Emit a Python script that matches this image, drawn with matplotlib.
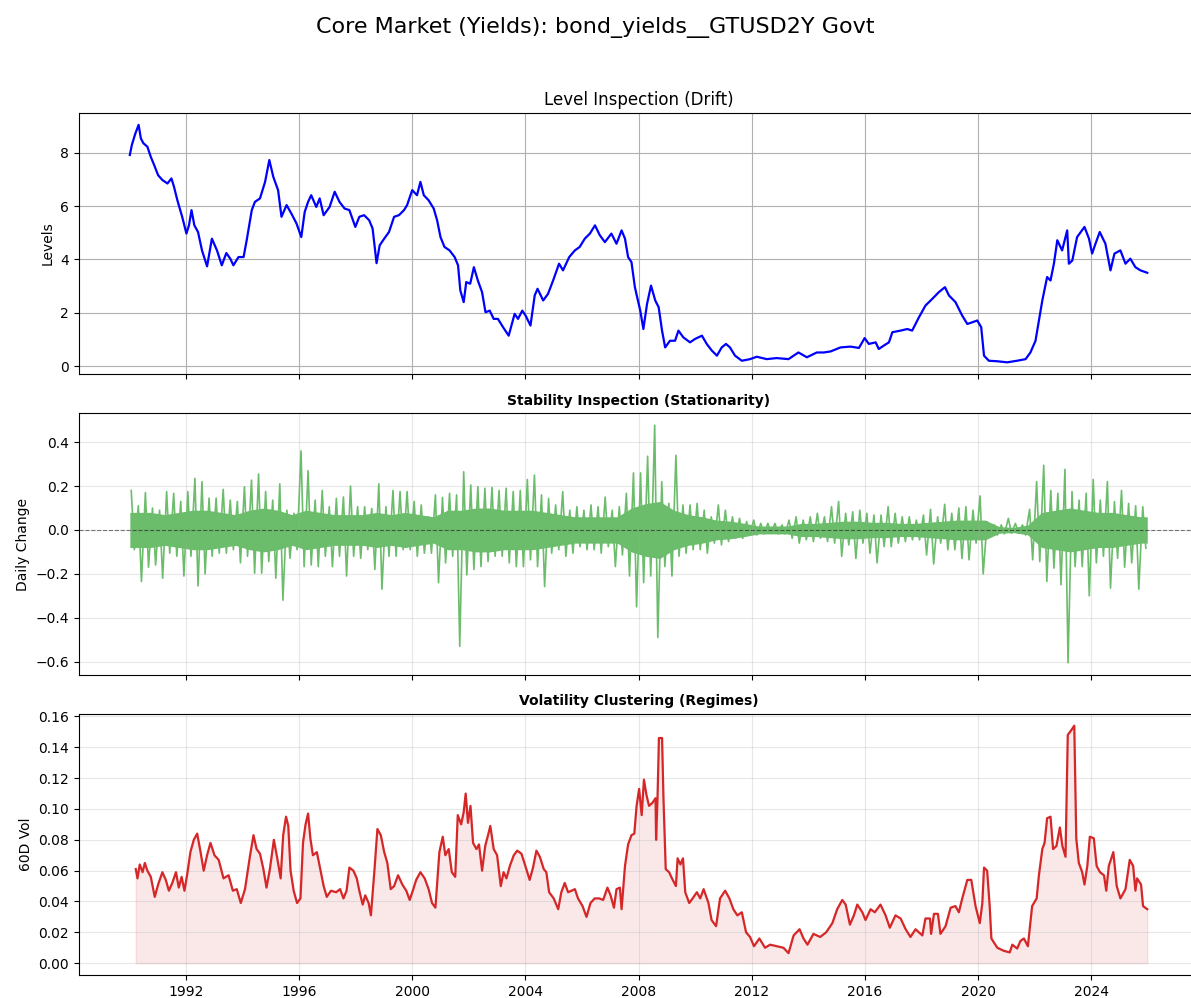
import numpy as np
import pandas as pd
import matplotlib
matplotlib.use('Agg')
import matplotlib.pyplot as plt

_title = 'Core Market (Yields): bond_yields__GTUSD2Y Govt'

# Level of the 2Y yield (decimal year, percent)
level_t = [1990.02, 1990.09, 1990.21, 1990.33, 1990.41, 1990.50, 1990.64, 1990.76, 1990.88,
           1991.02, 1991.17, 1991.35, 1991.49, 1991.58, 1991.70, 1991.87, 1992.02, 1992.11,
           1992.20, 1992.30, 1992.43, 1992.57, 1992.75, 1992.92, 1993.10, 1993.27, 1993.43,
           1993.57, 1993.68, 1993.86, 1994.04, 1994.15, 1994.33, 1994.44, 1994.62, 1994.80,
           1994.95, 1995.09, 1995.26, 1995.38, 1995.56, 1995.73, 1995.91, 1996.08, 1996.20,
           1996.32, 1996.43, 1996.61, 1996.73, 1996.87, 1997.08, 1997.26, 1997.43, 1997.61,
           1997.78, 1997.99, 1998.13, 1998.30, 1998.48, 1998.60, 1998.74, 1998.85, 1999.01,
           1999.18, 1999.36, 1999.53, 1999.71, 1999.82, 2000.00, 2000.17, 2000.29, 2000.41,
           2000.58, 2000.76, 2000.88, 2001.00, 2001.14, 2001.32, 2001.50, 2001.62, 2001.70,
           2001.82, 2001.91, 2002.05, 2002.18, 2002.32, 2002.47, 2002.59, 2002.74, 2002.88,
           2003.03, 2003.21, 2003.41, 2003.62, 2003.74, 2003.89, 2004.01, 2004.18, 2004.33,
           2004.43, 2004.63, 2004.80, 2004.98, 2005.19, 2005.33, 2005.55, 2005.75, 2005.92,
           2006.10, 2006.28, 2006.46, 2006.63, 2006.81, 2007.04, 2007.22, 2007.40, 2007.52,
           2007.63, 2007.75, 2007.87, 2008.06, 2008.17, 2008.30, 2008.44, 2008.59, 2008.71,
           2008.83, 2008.94, 2009.11, 2009.29, 2009.41, 2009.58, 2009.82, 2010.00, 2010.24,
           2010.41, 2010.59, 2010.77, 2010.94, 2011.09, 2011.23, 2011.41, 2011.65, 2011.94,
           2012.18, 2012.53, 2012.88, 2013.30, 2013.65, 2013.95, 2014.30, 2014.55, 2014.79,
           2015.14, 2015.49, 2015.79, 2015.99, 2016.14, 2016.38, 2016.49, 2016.67, 2016.85,
           2016.97, 2017.26, 2017.50, 2017.67, 2017.91, 2018.14, 2018.38, 2018.61, 2018.83,
           2018.97, 2019.20, 2019.44, 2019.62, 2019.79, 2019.97, 2020.11, 2020.21, 2020.38,
           2020.68, 2021.03, 2021.38, 2021.68, 2021.85, 2022.03, 2022.15, 2022.27, 2022.44,
           2022.56, 2022.68, 2022.80, 2022.97, 2023.15, 2023.21, 2023.33, 2023.50, 2023.76,
           2023.92, 2024.03, 2024.15, 2024.30, 2024.50, 2024.68, 2024.82, 2025.03, 2025.21,
           2025.38, 2025.56, 2025.74, 2025.98]
level_v = [7.92, 8.29, 8.71, 9.05, 8.54, 8.36, 8.23, 7.85, 7.54,
           7.16, 6.98, 6.85, 7.04, 6.73, 6.22, 5.60, 4.97, 5.28,
           5.85, 5.28, 5.03, 4.34, 3.74, 4.78, 4.34, 3.78, 4.24,
           4.03, 3.78, 4.09, 4.09, 4.72, 5.85, 6.16, 6.29, 6.91,
           7.73, 7.10, 6.60, 5.60, 6.04, 5.72, 5.35, 4.84, 5.78,
           6.16, 6.41, 5.97, 6.29, 5.66, 5.97, 6.54, 6.16, 5.91,
           5.85, 5.22, 5.60, 5.66, 5.47, 5.16, 3.86, 4.53, 4.78,
           5.03, 5.60, 5.66, 5.85, 6.04, 6.60, 6.41, 6.91, 6.41,
           6.22, 5.91, 5.47, 4.84, 4.47, 4.34, 4.09, 3.78, 2.84,
           2.40, 3.15, 3.09, 3.71, 3.21, 2.77, 2.02, 2.08, 1.77,
           1.77, 1.46, 1.14, 1.96, 1.77, 2.08, 1.89, 1.52, 2.65,
           2.90, 2.46, 2.71, 3.21, 3.84, 3.59, 4.09, 4.34, 4.47,
           4.78, 4.97, 5.28, 4.91, 4.65, 4.97, 4.59, 5.09, 4.78,
           4.09, 3.90, 2.96, 2.08, 1.39, 2.33, 3.02, 2.46, 2.21,
           1.33, 0.70, 0.95, 0.95, 1.33, 1.08, 0.89, 1.02, 1.14,
           0.83, 0.58, 0.39, 0.70, 0.83, 0.70, 0.39, 0.20, 0.26,
           0.35, 0.26, 0.30, 0.26, 0.51, 0.33, 0.51, 0.51, 0.55,
           0.70, 0.73, 0.68, 1.05, 0.83, 0.89, 0.64, 0.77, 0.89,
           1.27, 1.33, 1.39, 1.33, 1.83, 2.27, 2.52, 2.77, 2.96,
           2.65, 2.40, 1.89, 1.58, 1.64, 1.71, 1.46, 0.39, 0.20,
           0.18, 0.14, 0.20, 0.26, 0.51, 0.95, 1.71, 2.46, 3.34,
           3.21, 3.84, 4.72, 4.34, 5.09, 3.84, 3.96, 4.84, 5.22,
           4.78, 4.22, 4.59, 5.03, 4.59, 3.59, 4.22, 4.34, 3.84,
           4.03, 3.71, 3.59, 3.50]

# Daily change: quarterly extremes (largest rise / largest fall), 1990Q1..2025Q4
change_hi = [0.18, 0.11, 0.17, 0.10,  0.09, 0.175, 0.167, 0.13,  0.175, 0.235, 0.22, 0.145,
             0.145, 0.185, 0.136, 0.13,  0.197, 0.227, 0.255, 0.175,  0.136, 0.21, 0.09, 0.076,
             0.36, 0.27, 0.136, 0.18,  0.106, 0.144, 0.15, 0.20,  0.106, 0.106, 0.098, 0.21,
             0.106, 0.18, 0.175, 0.175,  0.13, 0.114, 0.06, 0.16,  0.148, 0.167, 0.16, 0.265,
             0.205, 0.197, 0.19, 0.194,  0.18, 0.19, 0.175, 0.18,  0.23, 0.25, 0.16, 0.144,
             0.114, 0.175, 0.09, 0.106,  0.09, 0.114, 0.106, 0.15,  0.09, 0.106, 0.167, 0.26,
             0.26, 0.336, 0.477, 0.22,  0.121, 0.34, 0.114, 0.114,  0.121, 0.09, 0.06, 0.114,
             0.09, 0.06, 0.053, 0.038,  0.045, 0.03, 0.03, 0.03,  0.023, 0.045, 0.06, 0.045,
             0.06, 0.076, 0.06, 0.106,  0.13, 0.076, 0.083, 0.09,  0.076, 0.068, 0.068, 0.106,
             0.076, 0.06, 0.06, 0.045,  0.068, 0.094, 0.06, 0.117,  0.076, 0.10, 0.106, 0.09,
             0.155, 0.038, 0.023, 0.023,  0.053, 0.03, 0.023, 0.094,  0.22, 0.295, 0.18, 0.167,
             0.276, 0.175, 0.136, 0.167,  0.23, 0.136, 0.22, 0.129,  0.18, 0.121, 0.11, 0.106]
change_lo = [-0.09, -0.235, -0.17, -0.16,  -0.22, -0.106, -0.12, -0.21,  -0.12, -0.255, -0.20, -0.12,
             -0.106, -0.106, -0.09, -0.15,  -0.12, -0.197, -0.197, -0.144,  -0.22, -0.32, -0.129, -0.09,
             -0.167, -0.16, -0.167, -0.12,  -0.167, -0.12, -0.21, -0.12,  -0.129, -0.09, -0.18, -0.27,
             -0.12, -0.12, -0.09, -0.09,  -0.12, -0.106, -0.106, -0.24,  -0.15, -0.12, -0.53, -0.205,
             -0.18, -0.167, -0.144, -0.12,  -0.12, -0.15, -0.167, -0.167,  -0.136, -0.167, -0.258, -0.106,
             -0.09, -0.12, -0.106, -0.076,  -0.09, -0.09, -0.106, -0.076,  -0.167, -0.114, -0.21, -0.35,
             -0.24, -0.21, -0.49, -0.167,  -0.21, -0.12, -0.106, -0.09,  -0.09, -0.106, -0.06, -0.068,
             -0.053, -0.038, -0.038, -0.023,  -0.023, -0.018, -0.015, -0.018,  -0.018, -0.038, -0.06, -0.045,
             -0.053, -0.038, -0.053, -0.06,  -0.12, -0.068, -0.13, -0.06,  -0.106, -0.15, -0.076, -0.076,
             -0.06, -0.053, -0.045, -0.045,  -0.114, -0.155, -0.06, -0.09,  -0.09, -0.13, -0.136, -0.06,
             -0.20, -0.03, -0.023, -0.018,  -0.015, -0.015, -0.023, -0.136,  -0.144, -0.235, -0.174, -0.25,
             -0.605, -0.167, -0.167, -0.30,  -0.15, -0.12, -0.265, -0.129,  -0.17, -0.15, -0.27, -0.083]
# typical size of a day's move, by half year (1990H1..2025H2)
change_core = [0.08, 0.08, 0.07, 0.08, 0.09, 0.09, 0.08, 0.07, 0.09, 0.10, 0.09, 0.07,
               0.09, 0.08, 0.07, 0.07, 0.07, 0.08, 0.07, 0.08, 0.07, 0.06, 0.09, 0.09,
               0.10, 0.10, 0.09, 0.09, 0.09, 0.08, 0.07, 0.06, 0.06, 0.06, 0.06, 0.10,
               0.12, 0.13, 0.09, 0.07, 0.06, 0.045, 0.04, 0.03, 0.018, 0.018, 0.018, 0.03,
               0.03, 0.035, 0.04, 0.04, 0.035, 0.035, 0.03, 0.03, 0.035, 0.04, 0.045, 0.045,
               0.045, 0.015, 0.012, 0.022, 0.08, 0.09, 0.10, 0.09, 0.08, 0.08, 0.07, 0.06]

# 60 day rolling volatility of daily changes
vol_t = [1990.23, 1990.29, 1990.37, 1990.47, 1990.55, 1990.64, 1990.76, 1990.90, 1991.02,
         1991.17, 1991.29, 1991.40, 1991.52, 1991.65, 1991.75, 1991.85, 1991.95, 1992.05,
         1992.16, 1992.28, 1992.40, 1992.51, 1992.63, 1992.75, 1992.87, 1993.01, 1993.16,
         1993.33, 1993.51, 1993.66, 1993.80, 1993.94, 1994.09, 1994.27, 1994.39, 1994.50,
         1994.62, 1994.74, 1994.85, 1994.97, 1995.11, 1995.23, 1995.35, 1995.44, 1995.54,
         1995.62, 1995.70, 1995.81, 1995.93, 1996.05, 1996.14, 1996.23, 1996.32, 1996.40,
         1996.49, 1996.63, 1996.75, 1996.87, 1996.98, 1997.13, 1997.31, 1997.45, 1997.57,
         1997.68, 1997.78, 1997.92, 1998.04, 1998.13, 1998.25, 1998.34, 1998.46, 1998.54,
         1998.66, 1998.77, 1998.89, 1999.01, 1999.12, 1999.24, 1999.36, 1999.50, 1999.65,
         1999.79, 1999.91, 2000.02, 2000.14, 2000.29, 2000.44, 2000.58, 2000.70, 2000.82,
         2000.96, 2001.08, 2001.17, 2001.29, 2001.40, 2001.52, 2001.61, 2001.73, 2001.82,
         2001.89, 2001.97, 2002.06, 2002.15, 2002.27, 2002.36, 2002.47, 2002.58, 2002.68,
         2002.76, 2002.88, 2003.00, 2003.13, 2003.23, 2003.33, 2003.45, 2003.59, 2003.71,
         2003.86, 2004.00, 2004.15, 2004.27, 2004.39, 2004.51, 2004.65, 2004.74, 2004.84,
         2005.00, 2005.16, 2005.27, 2005.39, 2005.51, 2005.63, 2005.75, 2005.86, 2006.02,
         2006.16, 2006.30, 2006.45, 2006.61, 2006.75, 2006.90, 2007.01, 2007.13, 2007.22,
         2007.34, 2007.40, 2007.52, 2007.63, 2007.75, 2007.85, 2007.93, 2008.02, 2008.11,
         2008.19, 2008.28, 2008.37, 2008.49, 2008.60, 2008.62, 2008.67, 2008.72, 2008.83,
         2008.88, 2008.96, 2009.08, 2009.18, 2009.32, 2009.38, 2009.48, 2009.57, 2009.65,
         2009.79, 2009.91, 2010.06, 2010.18, 2010.30, 2010.47, 2010.58, 2010.74, 2010.88,
         2011.06, 2011.21, 2011.35, 2011.49, 2011.65, 2011.80, 2011.94, 2012.08, 2012.27,
         2012.47, 2012.65, 2012.88, 2013.12, 2013.30, 2013.48, 2013.69, 2013.83, 2013.97,
         2014.18, 2014.42, 2014.63, 2014.85, 2015.02, 2015.20, 2015.32, 2015.47, 2015.61,
         2015.73, 2015.91, 2016.02, 2016.20, 2016.35, 2016.55, 2016.73, 2016.88, 2017.08,
         2017.26, 2017.44, 2017.61, 2017.79, 2018.03, 2018.14, 2018.30, 2018.34, 2018.44,
         2018.58, 2018.67, 2018.85, 2019.03, 2019.20, 2019.32, 2019.44, 2019.62, 2019.76,
         2019.91, 2020.06, 2020.15, 2020.21, 2020.32, 2020.41, 2020.47, 2020.68, 2020.91,
         2021.12, 2021.21, 2021.38, 2021.50, 2021.62, 2021.76, 2021.91, 2022.07, 2022.15,
         2022.27, 2022.35, 2022.44, 2022.56, 2022.65, 2022.77, 2022.89, 2022.98, 2023.09,
         2023.17, 2023.29, 2023.40, 2023.47, 2023.56, 2023.68, 2023.76, 2023.86, 2023.95,
         2024.09, 2024.19, 2024.31, 2024.45, 2024.53, 2024.62, 2024.78, 2024.90, 2025.03,
         2025.21, 2025.36, 2025.48, 2025.56, 2025.62, 2025.76, 2025.83, 2025.98]
vol_v = [0.061, 0.055, 0.064, 0.059, 0.065, 0.060, 0.056, 0.043, 0.051,
         0.059, 0.054, 0.047, 0.052, 0.059, 0.049, 0.056, 0.047, 0.058,
         0.072, 0.080, 0.084, 0.073, 0.060, 0.070, 0.078, 0.070, 0.067,
         0.055, 0.057, 0.047, 0.048, 0.039, 0.048, 0.070, 0.083, 0.074,
         0.071, 0.061, 0.049, 0.061, 0.080, 0.068, 0.055, 0.083, 0.095,
         0.089, 0.060, 0.047, 0.039, 0.042, 0.078, 0.090, 0.097, 0.081,
         0.070, 0.072, 0.061, 0.050, 0.043, 0.047, 0.046, 0.048, 0.042,
         0.047, 0.062, 0.060, 0.055, 0.047, 0.038, 0.044, 0.039, 0.031,
         0.059, 0.087, 0.083, 0.072, 0.065, 0.048, 0.050, 0.057, 0.051,
         0.047, 0.041, 0.047, 0.054, 0.059, 0.055, 0.048, 0.039, 0.036,
         0.072, 0.082, 0.070, 0.074, 0.059, 0.056, 0.096, 0.090, 0.098,
         0.110, 0.091, 0.102, 0.078, 0.074, 0.077, 0.060, 0.076, 0.083,
         0.089, 0.074, 0.070, 0.050, 0.059, 0.055, 0.063, 0.070, 0.073,
         0.071, 0.063, 0.054, 0.062, 0.073, 0.069, 0.061, 0.059, 0.046,
         0.042, 0.035, 0.046, 0.052, 0.046, 0.047, 0.048, 0.042, 0.037,
         0.030, 0.039, 0.042, 0.042, 0.041, 0.049, 0.044, 0.036, 0.048,
         0.049, 0.035, 0.063, 0.077, 0.083, 0.084, 0.102, 0.113, 0.096,
         0.119, 0.109, 0.102, 0.104, 0.107, 0.080, 0.107, 0.146, 0.146,
         0.107, 0.061, 0.059, 0.055, 0.050, 0.068, 0.064, 0.068, 0.046,
         0.039, 0.042, 0.046, 0.042, 0.048, 0.039, 0.028, 0.024, 0.042,
         0.047, 0.042, 0.035, 0.031, 0.033, 0.020, 0.017, 0.011, 0.016,
         0.010, 0.012, 0.011, 0.010, 0.0065, 0.018, 0.022, 0.016, 0.012,
         0.019, 0.017, 0.020, 0.026, 0.035, 0.041, 0.038, 0.025, 0.031,
         0.038, 0.033, 0.028, 0.035, 0.033, 0.038, 0.031, 0.023, 0.031,
         0.029, 0.022, 0.017, 0.022, 0.018, 0.029, 0.029, 0.019, 0.032,
         0.032, 0.019, 0.024, 0.036, 0.037, 0.033, 0.042, 0.054, 0.054,
         0.037, 0.026, 0.039, 0.062, 0.060, 0.037, 0.016, 0.010, 0.008,
         0.007, 0.012, 0.0095, 0.0145, 0.016, 0.011, 0.037, 0.042, 0.057,
         0.074, 0.078, 0.094, 0.095, 0.074, 0.076, 0.088, 0.076, 0.069,
         0.148, 0.151, 0.154, 0.081, 0.065, 0.059, 0.051, 0.063, 0.082,
         0.081, 0.063, 0.059, 0.057, 0.047, 0.063, 0.072, 0.050, 0.042,
         0.048, 0.067, 0.063, 0.047, 0.055, 0.051, 0.037, 0.035]


def to_dates(years):
    # decimal years -> timestamps
    years = np.asarray(years, dtype=float)
    return pd.Timestamp('1990-01-01') + pd.to_timedelta((years - 1990.0) * 365.25, unit='D')


def change_path():
    # zig-zag through the quarterly extremes, rise early in the quarter, fall later
    t, v = [], []
    for i, (hi, lo) in enumerate(zip(change_hi, change_lo)):
        q = 1990.0 + i * 0.25
        t += [q + 0.07, q + 0.18]
        v += [hi, lo]
    return to_dates(t), np.array(v)


def core_band():
    mids = [1990.25 + 0.5 * i for i in range(len(change_core))]
    t = [level_t[0]] + mids + [level_t[-1]]
    c = [change_core[0]] + change_core + [change_core[-1]]
    return to_dates(t), np.array(c)


fig, (ax1, ax2, ax3) = plt.subplots(3, 1, sharex=True, figsize=(11.91, 9.98), dpi=100)
fig.subplots_adjust(left=0.0663, right=1.006, top=0.8868, bottom=0.023, hspace=0.15)
fig.suptitle(_title, fontsize=16, y=0.972, va='center')

# Level
ax1.plot(to_dates(level_t), level_v, color='blue', lw=1.6)
ax1.set_title('Level Inspection (Drift)', fontsize=12)
ax1.set_ylabel('Levels')
ax1.grid(True)

# Daily changes
band_t, band_c = core_band()
ax2.fill_between(band_t, -band_c, band_c, color='#6bbc6b', lw=0)
zt, zv = change_path()
ax2.plot(zt, zv, color='#6bbc6b', lw=1.2)
ax2.axhline(0, color='black', ls='--', lw=0.8, alpha=0.5)
ax2.set_title('Stability Inspection (Stationarity)', fontsize=10, fontweight='bold')
ax2.set_ylabel('Daily Change')
ax2.grid(True, alpha=0.3)

# Rolling volatility
vt = to_dates(vol_t)
ax3.plot(vt, vol_v, color='tab:red', lw=1.6)
ax3.fill_between(vt, 0, vol_v, color='tab:red', alpha=0.1)
ax3.set_title('Volatility Clustering (Regimes)', fontsize=10, fontweight='bold')
ax3.set_ylabel('60D Vol')
ax3.grid(True, alpha=0.3)

fig.savefig('out.png', dpi=100)
